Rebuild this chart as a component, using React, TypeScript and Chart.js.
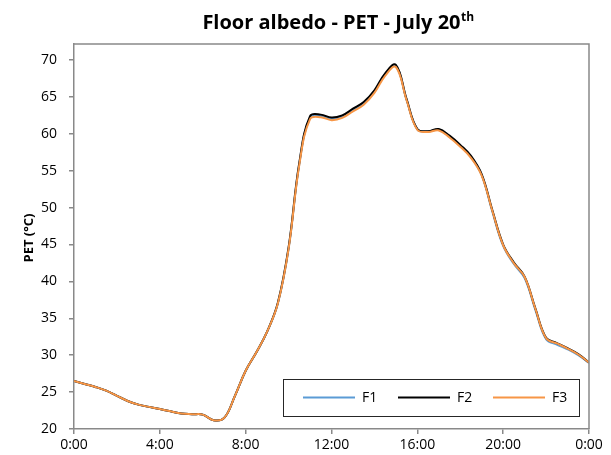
import React, { useEffect, useRef } from "react";
import { Chart, registerables } from "chart.js";

Chart.register(...registerables);

// Hour of day, half-hour steps from 0:00 to 24:00
const hours: number[] = [
  0, 0.5, 1, 1.5, 2, 2.5, 3, 3.5, 4, 4.5, 5, 5.5, 6, 6.5, 7, 7.5, 8, 8.5, 9, 9.5,
  10, 10.5, 11, 11.5, 12, 12.5, 13, 13.5, 14, 14.5, 15, 15.5, 16, 16.5, 17, 17.5,
  18, 18.5, 19, 19.5, 20, 20.5, 21, 21.5, 22, 22.5, 23, 23.5, 24,
];

// PET (°C) for the three floor albedo cases
const petF1: number[] = [
  26.5, 26.1, 25.7, 25.2, 24.5, 23.8, 23.3, 23.0, 22.7, 22.4, 22.1, 22.0, 21.95, 21.2, 21.5, 24.5,
  27.9, 30.4, 33.2, 37.0, 44.4, 55.9, 62.2, 62.45, 62.05, 62.35, 63.25, 64.15, 65.75, 68.05,
  69.2, 64.6, 60.6, 60.3, 60.55, 59.6, 58.35, 56.85, 54.4, 49.4, 44.8, 42.35, 40.45, 36.15,
  32.15, 31.45, 30.8, 30.0, 28.95,
];
const petF2: number[] = [
  26.5, 26.1, 25.7, 25.2, 24.5, 23.8, 23.3, 23.0, 22.7, 22.4, 22.1, 22.0, 21.95, 21.2, 21.5, 24.5,
  27.9, 30.4, 33.2, 37.1, 44.6, 56.1, 62.4, 62.6, 62.2, 62.5, 63.4, 64.3, 65.9, 68.2,
  69.35, 64.7, 60.65, 60.35, 60.65, 59.75, 58.5, 57.0, 54.5, 49.6, 45.0, 42.55, 40.65, 36.35,
  32.35, 31.65, 30.95, 30.15, 29.0,
];
const petF3: number[] = [
  26.5, 26.1, 25.7, 25.2, 24.5, 23.8, 23.3, 23.0, 22.7, 22.4, 22.1, 22.0, 21.95, 21.2, 21.5, 24.5,
  27.9, 30.4, 33.2, 37.0, 44.4, 55.8, 62.0, 62.25, 61.85, 62.15, 63.05, 63.95, 65.55, 67.85,
  69.05, 64.55, 60.55, 60.25, 60.45, 59.5, 58.25, 56.75, 54.35, 49.5, 44.9, 42.45, 40.6, 36.3,
  32.3, 31.6, 30.9, 30.1, 29.0,
];

const seriesNames: string[] = ["F1", "F2", "F3"];
const seriesColors: string[] = ["#5B9BD5", "#000000", "#F79646"];

const xTicks: number[] = [0, 4, 8, 12, 16, 20, 24];
const yTicks: number[] = [20, 25, 30, 35, 40, 45, 50, 55, 60, 65, 70];

const titleMain = "Floor albedo - PET - July 20";
const titleSup = "th";
const yTitle = "PET (°C)";

const FONT = "'Open Sans', 'Noto Sans', sans-serif";
const AXIS_GRAY = "#898989";

const hourLabel = (h: number) => `${h % 24}:00`;

// Title, plot frame and boxed legend drawn on top of the chart
const decorations = {
  id: "decorations",
  afterDraw(chart: Chart) {
    const { ctx, chartArea } = chart;
    ctx.save();

    // plot frame (top and right edges)
    ctx.strokeStyle = AXIS_GRAY;
    ctx.lineWidth = 1.5;
    ctx.beginPath();
    ctx.moveTo(chartArea.left, chartArea.top);
    ctx.lineTo(chartArea.right, chartArea.top);
    ctx.lineTo(chartArea.right, chartArea.bottom);
    ctx.stroke();

    // title with superscript
    ctx.fillStyle = "#000";
    ctx.textBaseline = "alphabetic";
    ctx.font = `bold 20px ${FONT}`;
    const wMain = ctx.measureText(titleMain).width;
    ctx.font = `bold 12px ${FONT}`;
    const wSup = ctx.measureText(titleSup).width;
    const startX = 338 - (wMain + wSup) / 2;
    ctx.font = `bold 20px ${FONT}`;
    ctx.textAlign = "left";
    ctx.fillText(titleMain, startX, 29);
    ctx.font = `bold 12px ${FONT}`;
    ctx.fillText(titleSup, startX + wMain + 0.5, 21);

    // y axis title
    ctx.save();
    ctx.translate(29, 238);
    ctx.rotate(-Math.PI / 2);
    ctx.font = `bold 13px ${FONT}`;
    ctx.textAlign = "center";
    ctx.textBaseline = "middle";
    ctx.fillText(yTitle, 0, 0);
    ctx.restore();

    // legend
    ctx.fillStyle = "#fff";
    ctx.fillRect(283.5, 379.5, 296, 37);
    ctx.strokeStyle = "#262626";
    ctx.lineWidth = 1;
    ctx.strokeRect(283.5, 379.5, 296, 37);
    const itemX = [303, 398, 493];
    ctx.font = `14px ${FONT}`;
    ctx.textAlign = "left";
    ctx.textBaseline = "middle";
    seriesNames.forEach((name, i) => {
      ctx.strokeStyle = seriesColors[i];
      ctx.lineWidth = 2;
      ctx.beginPath();
      ctx.moveTo(itemX[i], 397.5);
      ctx.lineTo(itemX[i] + 52, 397.5);
      ctx.stroke();
      ctx.fillStyle = "#000";
      ctx.fillText(name, itemX[i] + 59, 398);
    });

    ctx.restore();
  },
};

export default function App() {
  const canvasRef = useRef<HTMLCanvasElement | null>(null);

  useEffect(() => {
    const canvas = canvasRef.current;
    if (!canvas) return;
    const allSeries = [petF1, petF2, petF3];
    const chart = new Chart(canvas, {
      type: "line",
      data: {
        datasets: allSeries.map((vals, i) => ({
          label: seriesNames[i],
          data: hours.map((h, k) => ({ x: h, y: vals[k] })),
          borderColor: seriesColors[i],
          backgroundColor: seriesColors[i],
          borderWidth: 2,
          pointRadius: 0,
          tension: 0.4,
          fill: false,
          // F3 drawn last, on top
          order: allSeries.length - 1 - i,
        })),
      },
      options: {
        responsive: false,
        animation: false,
        layout: { padding: { left: 0, top: 44, right: 22, bottom: 0 } },
        plugins: {
          legend: { display: false },
          title: { display: false },
          tooltip: { enabled: false },
        },
        scales: {
          x: {
            type: "linear",
            min: 0,
            max: 24,
            offset: false,
            afterFit: (s: any) => {
              s.height = 26;
            },
            afterBuildTicks: (s: any) => {
              s.ticks = xTicks.map((v) => ({ value: v }));
            },
            ticks: {
              callback: (v: any) => hourLabel(Number(v)),
              font: { family: FONT, size: 14 },
              color: "#000",
              padding: 3,
              maxRotation: 0,
              autoSkip: false,
            },
            grid: {
              display: true,
              drawOnChartArea: false,
              drawTicks: true,
              tickLength: 5,
              color: AXIS_GRAY,
              lineWidth: 1.5,
            },
            border: { display: true, color: AXIS_GRAY, width: 1.5 },
          },
          y: {
            type: "linear",
            min: 20,
            max: 72.17,
            afterFit: (s: any) => {
              s.width = 74;
            },
            afterBuildTicks: (s: any) => {
              s.ticks = yTicks.map((v) => ({ value: v }));
            },
            ticks: {
              font: { family: FONT, size: 14 },
              color: "#000",
              padding: 12,
              autoSkip: false,
            },
            grid: {
              display: true,
              drawOnChartArea: false,
              drawTicks: true,
              tickLength: 5,
              color: AXIS_GRAY,
              lineWidth: 1.5,
            },
            border: { display: true, color: AXIS_GRAY, width: 1.5 },
          },
        },
      },
      plugins: [decorations],
    });
    return () => chart.destroy();
  }, []);

  return (
    <div style={{ position: "fixed", left: 0, top: 0, width: 611, height: 455, background: "#fff" }}>
      <canvas ref={canvasRef} width={611} height={455} style={{ display: "block" }} />
    </div>
  );
}
